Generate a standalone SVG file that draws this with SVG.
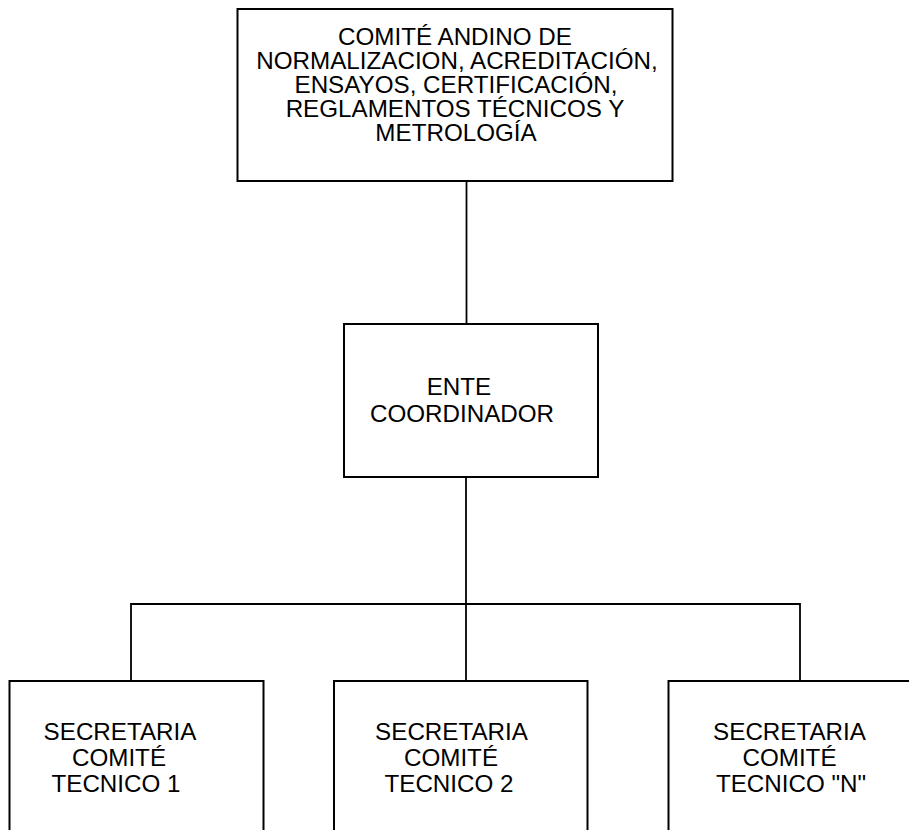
<svg xmlns="http://www.w3.org/2000/svg" width="909" height="830" viewBox="0 0 909 830">
<style>
.box{fill:#fff;stroke:#000;stroke-width:2}
.ln{fill:none;stroke:#000;stroke-width:1.8}
text{font-family:"Liberation Sans",Arial,sans-serif;font-size:24.2px;fill:#000;text-anchor:middle}
</style>
<rect width="909" height="830" fill="#fff"/>
<g id="connectors">
<line class="ln" x1="466.5" y1="181" x2="466.5" y2="324"/>
<line class="ln" x1="466" y1="477" x2="466" y2="681"/>
<polyline class="ln" points="131,681 131,604 800,604 800,681"/>
</g>
<g id="comite-andino">
<rect class="box" x="237.5" y="9" width="435" height="172"/>
<text x="455" y="45">COMITÉ ANDINO DE</text>
<text x="457" y="69">NORMALIZACION, ACREDITACIÓN,</text>
<text x="456" y="93">ENSAYOS, CERTIFICACIÓN,</text>
<text x="455" y="117">REGLAMENTOS TÉCNICOS Y</text>
<text x="456" y="141">METROLOGÍA</text>
</g>
<g id="ente-coordinador">
<rect class="box" x="344" y="324" width="254" height="153"/>
<text x="459" y="395">ENTE</text>
<text x="462" y="422">COORDINADOR</text>
</g>
<g id="secretaria-1">
<rect class="box" x="9.5" y="681" width="254" height="170"/>
<text x="120" y="740">SECRETARIA</text>
<text x="119" y="766">COMITÉ</text>
<text x="116" y="792">TECNICO 1</text>
</g>
<g id="secretaria-2">
<rect class="box" x="334" y="681" width="253.5" height="170"/>
<text x="451.5" y="740">SECRETARIA</text>
<text x="451" y="766">COMITÉ</text>
<text x="449" y="792">TECNICO 2</text>
</g>
<g id="secretaria-n">
<rect class="box" x="668.5" y="681" width="260" height="170"/>
<text x="789.5" y="740">SECRETARIA</text>
<text x="789.5" y="766">COMITÉ</text>
<text x="791" y="792">TECNICO "N"</text>
</g>
</svg>
